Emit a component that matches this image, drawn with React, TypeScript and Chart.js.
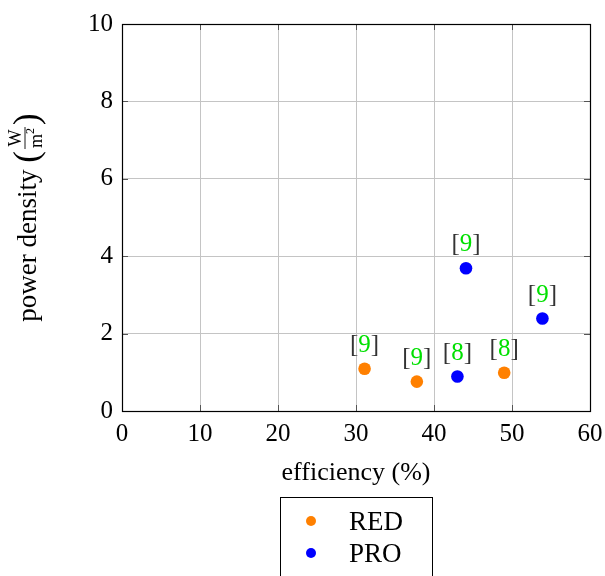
import React, { useEffect, useRef } from "react";
import { Chart, registerables } from "chart.js";
Chart.register(...registerables);

const seriesNames = ["RED", "PRO"];
const seriesColors = ["#ff8000", "#0000ff"];
const redX = [31.1, 37.8, 49.0];
const redY = [1.09, 0.76, 0.99];
const redRefs = ["9", "9", "8"];
const proX = [43.0, 44.1, 53.9];
const proY = [0.89, 3.69, 2.39];
const proRefs = ["8", "9", "9"];
const xTitle = "efficiency (%)";
const yTitle = "power density";
const xMin = 0, xMax = 60, xStep = 10;
const yMin = 0, yMax = 10, yStep = 2;

const FONT = "'Liberation Serif', 'DejaVu Serif', serif";
const GREEN = "#00e000";
const FS = 25;

const refsByDataset = [redRefs, proRefs];

const overlayPlugin = {
  id: "overlay",
  afterDatasetsDraw(chart: any) {
    const ctx = chart.ctx;
    const { left, right, top, bottom } = chart.chartArea;
    ctx.save();
    // inward ticks
    ctx.strokeStyle = "#555";
    ctx.lineWidth = 1;
    const xs = chart.scales.x, ys = chart.scales.y;
    for (let v = xMin; v <= xMax; v += xStep) {
      const px = Math.round(xs.getPixelForValue(v)) + 0.5;
      ctx.beginPath();
      ctx.moveTo(px, bottom); ctx.lineTo(px, bottom - 6);
      ctx.moveTo(px, top); ctx.lineTo(px, top + 6);
      ctx.stroke();
    }
    for (let v = yMin; v <= yMax; v += yStep) {
      const py = Math.round(ys.getPixelForValue(v)) + 0.5;
      ctx.beginPath();
      ctx.moveTo(left, py); ctx.lineTo(left + 6, py);
      ctx.moveTo(right, py); ctx.lineTo(right - 6, py);
      ctx.stroke();
    }
    // box
    ctx.strokeStyle = "#000";
    ctx.lineWidth = 1.2;
    ctx.strokeRect(Math.round(left) + 0.5, Math.round(top) + 0.5, Math.round(right - left), Math.round(bottom - top));

    // point labels
    ctx.font = `${FS}px ${FONT}`;
    ctx.textBaseline = "alphabetic";
    ctx.textAlign = "left";
    chart.data.datasets.forEach((ds: any, di: number) => {
      const meta = chart.getDatasetMeta(di);
      meta.data.forEach((el: any, i: number) => {
        const txt = refsByDataset[di][i];
        const wL = ctx.measureText("[").width;
        const wD = ctx.measureText(txt).width;
        const wR = ctx.measureText("]").width;
        const tot = wL + wD + wR;
        const x = el.x - tot / 2;
        const y = el.y - 17;
        ctx.fillStyle = "#333";
        ctx.fillText("[", x, y);
        ctx.fillStyle = GREEN;
        ctx.fillText(txt, x + wL, y);
        ctx.fillStyle = "#333";
        ctx.fillText("]", x + wL + wD, y);
      });
    });

    // x title
    ctx.fillStyle = "#000";
    ctx.textAlign = "center";
    ctx.textBaseline = "alphabetic";
    ctx.font = `26px ${FONT}`;
    ctx.fillText(xTitle, (left + right) / 2, 480);

    // y title
    ctx.save();
    ctx.translate(31, (top + bottom) / 2);
    ctx.rotate(-Math.PI / 2);
    ctx.font = `27px ${FONT}`;
    const main = yTitle + " ";
    const wMain = ctx.measureText(main).width;
    ctx.font = `35px ${FONT}`;
    const wP = ctx.measureText("(").width;
    ctx.font = `18px ${FONT}`;
    const wW = ctx.measureText("W").width;
    const mw = ctx.measureText("m").width;
    const wF = Math.max(wW, mw + 6) + 4;
    const total = wMain + wP * 2 + wF + 2;
    let cx = -total / 2;
    ctx.textAlign = "left";
    ctx.font = `27px ${FONT}`;
    ctx.fillText(main, cx, 5);
    cx += wMain;
    ctx.font = `35px ${FONT}`;
    ctx.fillText("(", cx, 7);
    cx += wP + 1;
    // fraction
    ctx.font = `18px ${FONT}`;
    ctx.textAlign = "center";
    const fc = cx + wF / 2;
    ctx.fillText("W", fc, -10);
    ctx.beginPath();
    ctx.lineWidth = 0.9;
    ctx.moveTo(cx + 1, -6);
    ctx.lineTo(cx + wF - 1, -6);
    ctx.stroke();
    ctx.fillText("m", fc - 3, 11);
    ctx.font = `12px ${FONT}`;
    ctx.fillText("2", fc - 3 + mw / 2 + 3, 3);
    cx += wF + 1;
    ctx.textAlign = "left";
    ctx.font = `35px ${FONT}`;
    ctx.fillText(")", cx, 7);
    ctx.restore();

    // legend
    const lx = 280.5, ly = 497.5, lw = 152, lh = 90;
    ctx.strokeStyle = "#000";
    ctx.lineWidth = 1;
    ctx.strokeRect(lx, ly, lw, lh);
    ctx.font = `27px ${FONT}`;
    ctx.textAlign = "left";
    ctx.textBaseline = "alphabetic";
    chart.data.datasets.forEach((ds: any, di: number) => {
      const yy = 521 + di * 32;
      ctx.fillStyle = ds.backgroundColor;
      ctx.beginPath();
      ctx.arc(311, yy, 5, 0, Math.PI * 2);
      ctx.fill();
      ctx.fillStyle = "#000";
      ctx.fillText(ds.label, 349, yy + 9);
    });
    ctx.restore();
  },
};

export default function App() {
  const ref = useRef<HTMLCanvasElement | null>(null);
  useEffect(() => {
    if (!ref.current) return;
    const mk = (xs: number[], ys: number[]) => xs.map((x, i) => ({ x, y: ys[i] }));
    const chart = new Chart(ref.current, {
      type: "scatter",
      data: {
        datasets: [
          { label: seriesNames[0], data: mk(redX, redY), backgroundColor: seriesColors[0], borderColor: seriesColors[0], pointRadius: 6.3, borderWidth: 0 },
          { label: seriesNames[1], data: mk(proX, proY), backgroundColor: seriesColors[1], borderColor: seriesColors[1], pointRadius: 6.3, borderWidth: 0 },
        ],
      },
      options: {
        responsive: false,
        animation: false,
        layout: { padding: { left: 0, top: 24, right: 15, bottom: 0 } },
        plugins: { legend: { display: false }, tooltip: { enabled: false } },
        scales: {
          x: {
            type: "linear",
            min: xMin,
            max: xMax,
            afterFit: (s: any) => { s.height = 165; s.paddingLeft = 0; s.paddingRight = 0; },
            ticks: { stepSize: xStep, color: "#000", font: { family: FONT, size: FS }, padding: 8, maxRotation: 0 },
            grid: { color: "#c4c4c4", drawTicks: false, lineWidth: 1 },
            border: { display: false },
          },
          y: {
            type: "linear",
            min: yMin,
            max: yMax,
            afterFit: (s: any) => { s.width = 122; s.paddingTop = 0; s.paddingBottom = 0; },
            ticks: { stepSize: yStep, color: "#000", font: { family: FONT, size: FS }, padding: 9 },
            grid: { color: "#c4c4c4", drawTicks: false, lineWidth: 1 },
            border: { display: false },
          },
        },
      },
      plugins: [overlayPlugin],
    } as any);
    return () => chart.destroy();
  }, []);
  return (
    <div style={{ position: "absolute", left: 0, top: 0, width: 605, height: 576, background: "#fff" }}>
      <canvas ref={ref} width={605} height={576} style={{ width: 605, height: 576, display: "block" }} />
    </div>
  );
}
